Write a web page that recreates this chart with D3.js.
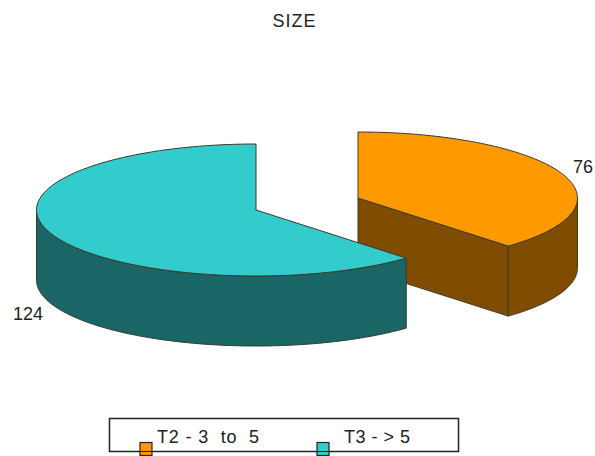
<!DOCTYPE html>
<html><head><meta charset="utf-8">
<script src="https://cdnjs.cloudflare.com/ajax/libs/d3/7.8.5/d3.min.js"></script>
<style>html,body{margin:0;padding:0;background:#fff}svg{display:block}text{font-family:"Liberation Sans",Arial,sans-serif;fill:#222}</style>
</head><body><svg id="c" width="595" height="456"></svg>
<script>
const categories = ["T2 - 3  to  5", "T3 - > 5"];
const values = [76, 124];
const topColors = ["#FF9900", "#33CCCC"];
const sideColors = ["#804D00", "#1A6666"];
const centers = [[358, 198], [256, 210]];
const legendX = [146, 323];
const legendTextX = [157, 344];
const legendTextWidth = [102, 66];
const labelPos = [[583, 167], [28, 314]];

const rx = 219.5, ry = 66, depth = 70;
const svg = d3.select("#c");
const arcs = d3.pie().sort(null)(values);
const line = d3.line();
const pt = (c, a, dy = 0) => [c[0] + rx * Math.sin(a), c[1] - ry * Math.cos(a) + dy];
const sweep = (c, a0, a1, dy = 0) => d3.range(0, 121).map(i => pt(c, a0 + (a1 - a0) * i / 120, dy));
const stroke = "#3a3a2a";

arcs.forEach((d, i) => {
  const c = centers[i];
  const g = svg.append("g");
  if (d.endAngle < Math.PI) {
    g.append("path").attr("d", line([[c[0], c[1]], pt(c, d.endAngle), pt(c, d.endAngle, depth), [c[0], c[1] + depth]]) + "Z")
      .attr("fill", sideColors[i]).attr("stroke", stroke).attr("stroke-width", 1);
  }
  const a0 = Math.max(d.startAngle, Math.PI / 2), a1 = Math.min(d.endAngle, 3 * Math.PI / 2);
  const wall = sweep(c, a0, a1).concat(sweep(c, a1, a0, depth));
  g.append("path").attr("d", line(wall) + "Z")
    .attr("fill", sideColors[i]).attr("stroke", stroke).attr("stroke-width", 1);
  const top = [c].concat(sweep(c, d.startAngle, d.endAngle));
  g.append("path").attr("d", line(top) + "Z")
    .attr("fill", topColors[i]).attr("stroke", stroke).attr("stroke-width", 1);
  svg.append("text").attr("x", labelPos[i][0]).attr("y", labelPos[i][1] + 6)
    .attr("text-anchor", "middle").attr("font-size", 18).text(values[i]);
});

svg.append("text").attr("x", 294.5).attr("y", 26.5).attr("text-anchor", "middle")
  .attr("font-size", 18).attr("letter-spacing", 1).text("SIZE");

svg.append("rect").attr("x", 109.5).attr("y", 418.5).attr("width", 349).attr("height", 33)
  .attr("fill", "#fff").attr("stroke", "#222").attr("stroke-width", 1.5);
categories.forEach((name, i) => {
  svg.append("text").attr("x", legendTextX[i]).attr("y", 443).attr("font-size", 18)
    .attr("textLength", legendTextWidth[i]).attr("lengthAdjust", "spacing")
    .style("white-space", "pre").text(name);
  svg.append("rect").attr("x", legendX[i] - 6).attr("y", 442.5).attr("width", 12).attr("height", 13)
    .attr("fill", topColors[i]).attr("stroke", "#222").attr("stroke-width", 1.2);
  svg.append("line").attr("x1", legendX[i] - 6).attr("x2", legendX[i] + 6).attr("y1", 451.5).attr("y2", 451.5)
    .attr("stroke", "#222").attr("stroke-width", 1);
});
</script></body></html>
